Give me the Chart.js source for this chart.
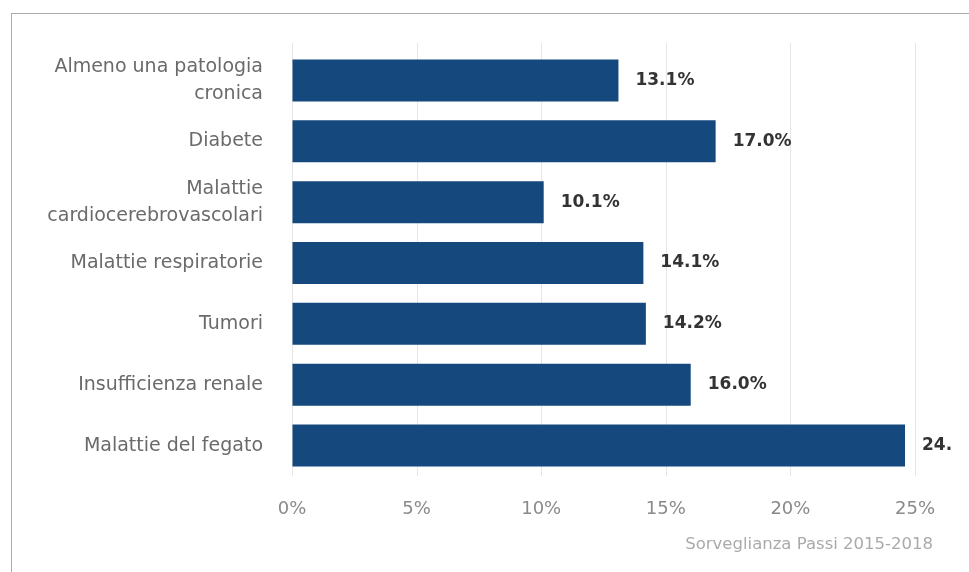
<!DOCTYPE html>
<html>
<head>
<meta charset="utf-8">
<script src="https://cdn.jsdelivr.net/npm/chart.js@4/dist/chart.umd.min.js"></script>
<style>
  html, body { margin: 0; padding: 0; background: #ffffff; }
  body { width: 969px; height: 572px; position: relative; overflow: hidden; }
  #frame { position: absolute; left: 11px; top: 13px; width: 1000px; height: 600px;
           border-top: 1.5px solid #acacac; border-left: 1.5px solid #acacac; }
  #wrap { position: absolute; left: 0; top: 0; width: 951px; height: 572px; }
</style>
</head>
<body>
<div id="frame"></div>
<div id="wrap"><canvas id="c"></canvas></div>
<script>
const categories = [
  ['Almeno una patologia', 'cronica'],
  'Diabete',
  ['Malattie', 'cardiocerebrovascolari'],
  'Malattie respiratorie',
  'Tumori',
  'Insufficienza renale',
  'Malattie del fegato'
];
const values = [13.1, 17.0, 10.1, 14.1, 14.2, 16.0, 24.6];
const xTicks = [0, 5, 10, 15, 20, 25];
const footerText = 'Sorveglianza Passi 2015-2018';

const gridLines = {
  id: 'gridLines',
  beforeDatasetsDraw(chart) {
    const ctx = chart.ctx;
    const xs = chart.scales.x;
    ctx.save();
    ctx.strokeStyle = '#e6e6e6';
    ctx.lineWidth = 1;
    xTicks.forEach(v => {
      const px = Math.round(xs.getPixelForValue(v)) + 0.5;
      ctx.beginPath();
      ctx.moveTo(px, chart.chartArea.top - 7);
      ctx.lineTo(px, chart.chartArea.bottom);
      ctx.stroke();
    });
    ctx.restore();
  }
};

const valueLabels = {
  id: 'valueLabels',
  afterDatasetsDraw(chart) {
    const ctx = chart.ctx;
    const meta = chart.getDatasetMeta(0);
    ctx.save();
    ctx.font = 'bold 17px "DejaVu Sans"';
    ctx.fillStyle = '#333333';
    ctx.textAlign = 'left';
    ctx.textBaseline = 'middle';
    meta.data.forEach((bar, i) => {
      ctx.fillText(values[i].toFixed(1) + '%', bar.x + 17, bar.y);
    });
    ctx.restore();
  }
};

const footer = {
  id: 'footer',
  afterDraw(chart) {
    const ctx = chart.ctx;
    ctx.save();
    ctx.font = '16.5px "DejaVu Sans"';
    ctx.fillStyle = '#aaaaaa';
    ctx.textAlign = 'right';
    ctx.textBaseline = 'middle';
    ctx.fillText(footerText, chart.chartArea.right + 18, 545);
    ctx.restore();
  }
};

new Chart(document.getElementById('c'), {
  type: 'bar',
  data: {
    labels: categories,
    datasets: [{
      data: values,
      backgroundColor: '#15497e',
      borderWidth: 0,
      barPercentage: 0.69,
      categoryPercentage: 1
    }]
  },
  options: {
    indexAxis: 'y',
    responsive: true,
    maintainAspectRatio: false,
    animation: false,
    layout: { padding: { top: 50, right: 36, bottom: 0, left: 0 } },
    plugins: { legend: { display: false }, tooltip: { enabled: false } },
    scales: {
      x: {
        min: 0, max: 25,
        afterBuildTicks(scale) { scale.ticks = xTicks.map(v => ({ value: v })); },
        afterFit(scale) { scale.height = 96; },
        grid: { color: 'transparent', drawTicks: true, tickLength: 23, tickColor: 'transparent' },
        border: { display: false },
        ticks: {
          padding: 0,
          color: '#8a8a8a',
          font: { family: 'DejaVu Sans', size: 18 },
          callback: (v) => v + '%'
        }
      },
      y: {
        afterFit(scale) { scale.width = 292; },
        grid: { display: false, drawTicks: false },
        border: { display: false },
        ticks: {
          padding: 29,
          color: '#6a6a6a',
          font: { family: 'DejaVu Sans', size: 19, lineHeight: 1.42 }
        }
      }
    }
  },
  plugins: [gridLines, valueLabels, footer]
});
</script>
</body>
</html>
